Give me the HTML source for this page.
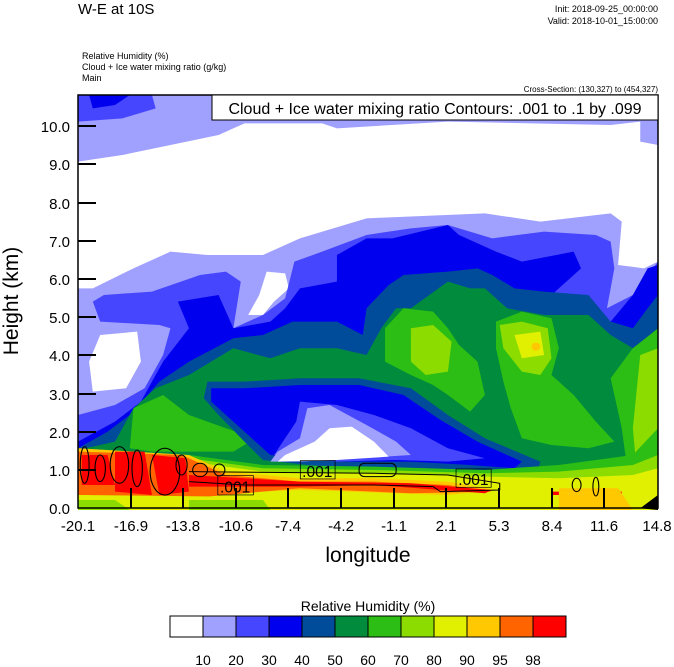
<!DOCTYPE html>
<html><head><meta charset="utf-8"><style>
body{margin:0;background:#fff;}
svg{display:block;font-family:"Liberation Sans",sans-serif;}
</style></head><body>
<svg width="674" height="667" viewBox="0 0 674 667" xmlns="http://www.w3.org/2000/svg">
<text x="78" y="14" font-size="15">W-E at 10S</text>
<text x="658" y="12" font-size="9" text-anchor="end">Init: 2018-09-25_00:00:00</text>
<text x="658" y="24" font-size="9" text-anchor="end">Valid: 2018-10-01_15:00:00</text>
<text x="82" y="59" font-size="9">Relative Humidity   (%)</text>
<text x="82" y="70" font-size="9">Cloud + Ice water mixing ratio   (g/kg)</text>
<text x="82" y="81" font-size="9">Main</text>
<text x="658" y="92" font-size="8" text-anchor="end">Cross-Section: (130,327) to (454,327)</text>
<defs><clipPath id="c"><rect x="0" y="0" width="1568" height="1245"/></clipPath></defs>
<g transform="translate(78,95) scale(0.3699,0.3333)" clip-path="url(#c)">
<rect width="1568" height="1245" fill="#a0a0ff"/>
<path d="M0,0 L200,0 L210,40 L120,70 L0,80Z" fill="#4646ff"/>
<path d="M30,0 L140,0 L100,30 L40,40Z" fill="#0000ee"/>
<path d="M0,200 L120,180 L250,150 L380,120 L450,85 L660,85 L700,100 L1000,80 L1440,90 L1520,80 L1520,140 L1568,150 L1568,500 L1530,520 L1460,510 L1470,380 L1440,355 L1250,380 L1100,355 L780,370 L600,430 L500,480 L350,480 L250,470 L150,520 L40,580 L0,580Z" fill="#fff"/>
<path d="M60,720 L160,710 L170,800 L130,880 L40,890 L30,800Z" fill="#fff"/>
<path d="M510,530 L560,535 L570,580 L530,620 L500,660 L460,660 L490,600Z" fill="#fff"/>
<path d="M0,960 L100,930 L180,880 L230,780 L250,700 L220,690 L60,680 L40,620 L70,600 L200,590 L330,540 L400,530 L440,560 L420,700 L500,660 L560,610 L585,500 L660,470 L780,420 L900,400 L1000,390 L1120,430 L1260,410 L1400,420 L1440,440 L1450,520 L1430,640 L1500,600 L1568,500 L1568,1245 L0,1245Z" fill="#4646ff"/>
<path d="M0,1040 L100,980 L170,920 L230,800 L300,700 L270,620 L380,600 L420,700 L520,680 L560,640 L600,580 L700,560 L700,480 L780,430 L850,430 L1000,390 L1030,420 L1130,470 L1200,500 L1340,470 L1360,520 L1280,600 L1300,640 L1440,680 L1500,600 L1540,520 L1568,510 L1568,1245 L0,1245Z" fill="#0000ee"/>
<path d="M0,1060 L80,1010 L140,960 L220,860 L300,800 L420,730 L500,720 L580,680 L700,680 L770,720 L780,640 L840,570 L880,540 L1000,530 L1080,520 L1120,540 L1180,580 L1260,590 L1380,600 L1440,680 L1500,700 L1540,640 L1568,600 L1568,1245 L0,1245Z" fill="#004c9a"/>
<path d="M0,1065 L100,1040 L150,940 L210,880 L300,840 L420,760 L520,790 L600,760 L700,760 L780,780 L820,700 L860,640 L900,640 L1000,560 L1060,580 L1100,580 L1160,640 L1260,660 L1380,660 L1440,720 L1500,760 L1568,700 L1568,1245 L0,1245Z" fill="#008c3c"/>
<path d="M150,940 L230,900 L300,960 L400,1000 L480,1030 L420,1070 L300,1070 L200,1070 L140,1060Z" fill="#2cbe14"/>
<path d="M830,700 L880,640 L960,650 L1000,700 L1030,750 L1080,800 L1100,900 L1060,950 L1000,900 L960,870 L900,840 L830,800Z" fill="#2cbe14"/>
<path d="M1130,680 L1200,650 L1280,670 L1300,760 L1280,840 L1340,900 L1400,980 L1450,1040 L1380,1060 L1280,1050 L1200,1030 L1170,940 L1150,860 L1130,760Z" fill="#2cbe14"/>
<path d="M1500,760 L1568,700 L1568,1245 L1500,1245 L1470,1000 L1440,850Z" fill="#2cbe14"/>
<path d="M900,700 L960,690 L1010,740 L1000,830 L940,840 L900,800Z" fill="#8cdc00"/>
<path d="M1140,690 L1200,680 L1270,700 L1280,790 L1250,840 L1200,830 L1150,760Z" fill="#8cdc00"/>
<path d="M1520,780 L1568,760 L1568,1245 L1520,1245 L1500,1000Z" fill="#8cdc00"/>
<path d="M1180,720 L1250,710 L1260,780 L1200,790Z" fill="#e0f000"/>
<circle cx="1238" cy="755" r="12" fill="#ffc800"/>
<path d="M350,860 L450,860 L600,850 L760,850 L900,880 L1000,960 L1100,1030 L1250,1100 L1240,1140 L1100,1130 L900,1120 L700,1120 L500,1095 L450,1040 L380,960 L340,910Z" fill="#004c9a"/>
<path d="M360,880 L450,880 L600,870 L760,870 L880,900 L980,975 L1080,1040 L1200,1100 L1180,1120 L1060,1110 L900,1100 L700,1100 L520,1080 L470,1030 L400,960 L360,920Z" fill="#0000ee"/>
<path d="M600,920 L700,930 L800,960 L900,1000 L1000,1060 L1100,1090 L1000,1100 L860,1095 L700,1100 L530,1080 L560,1030 L590,980Z" fill="#4646ff"/>
<path d="M620,940 L680,930 L780,990 L860,1040 L900,1080 L760,1090 L600,1100 L520,1100 L540,1070 L600,1030Z" fill="#a0a0ff"/>
<path d="M680,1000 L740,995 L800,1040 L840,1085 L700,1095 L540,1100 L560,1080 L640,1040Z" fill="#fff"/>
<path d="M0,1060 L300,1080 L500,1110 L800,1115 L1100,1125 L1300,1110 L1500,1080 L1568,1000 L1568,1245 L0,1245Z" fill="#2cbe14"/>
<path d="M0,1080 L300,1090 L500,1120 L800,1125 L1100,1135 L1300,1130 L1500,1110 L1568,1080 L1568,1245 L0,1245Z" fill="#8cdc00"/>
<path d="M0,1085 L300,1100 L500,1130 L800,1135 L1100,1145 L1300,1150 L1500,1140 L1568,1120 L1568,1245 L0,1245Z" fill="#e0f000"/>
<path d="M0,1060 L300,1080 L400,1130 L600,1150 L800,1150 L1000,1160 L1130,1185 L1000,1200 L600,1185 L300,1200 L0,1200Z" fill="#ffc800"/>
<path d="M0,1070 L280,1080 L400,1140 L600,1160 L800,1160 L1000,1170 L1120,1190 L900,1195 L600,1180 L300,1210 L0,1200Z" fill="#ff6400"/>
<path d="M10,1080 L80,1080 L100,1170 L10,1170Z M100,1070 L180,1070 L200,1200 L100,1190Z M200,1080 L290,1090 L300,1190 L220,1200Z M300,1140 L600,1160 L900,1165 L1120,1185 L1100,1195 L800,1170 L600,1175 L300,1175Z" fill="#ff0000"/>
<path d="M1280,1190 L1470,1190 L1470,1200 L1280,1200Z" fill="#ff0000"/>
<path d="M1300,1180 L1460,1180 L1500,1245 L1300,1245Z" fill="#ffc800"/>
<path d="M0,1200 L400,1205 L900,1210 L1280,1205 L1300,1245 L0,1245Z" fill="#e0f000"/>
<path d="M0,1215 L100,1215 L140,1245 L0,1245Z M300,1215 L500,1215 L520,1245 L300,1245Z" fill="#8cdc00"/>
<path d="M1520,1240 L1568,1200 L1568,1245Z" fill="#000"/>
<g fill="none" stroke="#000" stroke-width="3">
<ellipse cx="18" cy="1110" rx="12" ry="55"/><ellipse cx="60" cy="1120" rx="14" ry="40"/>
<ellipse cx="112" cy="1110" rx="25" ry="55"/><ellipse cx="160" cy="1120" rx="14" ry="55"/>
<ellipse cx="235" cy="1130" rx="40" ry="70"/><ellipse cx="280" cy="1110" rx="15" ry="30"/>
<ellipse cx="330" cy="1125" rx="20" ry="20"/><ellipse cx="382" cy="1125" rx="15" ry="18"/>
<path d="M300,1130 L800,1135 L1000,1140 L1140,1165 L1140,1185 L980,1190 L960,1175 L800,1170 L450,1170 L300,1160"/>
<rect x="760" y="1105" width="100" height="40" rx="15"/>
<ellipse cx="1348" cy="1170" rx="12" ry="20"/><ellipse cx="1400" cy="1175" rx="8" ry="28"/>
</g>
<g stroke="#000" stroke-width="2" fill="#fff" fill-opacity="0.01">
<rect x="378" y="1142" width="96" height="58"/><rect x="601" y="1097" width="94" height="55"/><rect x="1022" y="1122" width="95" height="55"/>
</g>
<g font-size="42" transform="scale(1,1.1)">
<text x="384" y="1084">.001</text><text x="606" y="1042">.001</text><text x="1028" y="1064">.001</text>
</g>
</g>
<rect x="78" y="95" width="580" height="413" fill="none" stroke="#000" stroke-width="1.5"/>
<rect x="212" y="95" width="446" height="25" fill="#fff" stroke="#000" stroke-width="1"/>
<text x="435" y="114" font-size="16" text-anchor="middle">Cloud + Ice water mixing ratio Contours: .001 to .1 by .099</text>
<g stroke="#000" stroke-width="2">
<line x1="78" y1="126" x2="96" y2="126"/><line x1="78" y1="164" x2="96" y2="164"/><line x1="78" y1="203" x2="96" y2="203"/><line x1="78" y1="241" x2="96" y2="241"/><line x1="78" y1="279" x2="96" y2="279"/><line x1="78" y1="317" x2="96" y2="317"/><line x1="78" y1="355" x2="96" y2="355"/><line x1="78" y1="394" x2="96" y2="394"/><line x1="78" y1="432" x2="96" y2="432"/><line x1="78" y1="470" x2="96" y2="470"/>
<line x1="131" y1="508" x2="131" y2="488"/><line x1="183" y1="508" x2="183" y2="488"/><line x1="236" y1="508" x2="236" y2="488"/><line x1="288" y1="508" x2="288" y2="488"/><line x1="341" y1="508" x2="341" y2="488"/><line x1="394" y1="508" x2="394" y2="488"/><line x1="446" y1="508" x2="446" y2="488"/><line x1="499" y1="508" x2="499" y2="488"/><line x1="552" y1="508" x2="552" y2="488"/><line x1="604" y1="508" x2="604" y2="488"/>
</g>
<g font-size="15" text-anchor="end">
<text x="70" y="132">10.0</text><text x="70" y="170">9.0</text><text x="70" y="209">8.0</text><text x="70" y="247">7.0</text><text x="70" y="285">6.0</text><text x="70" y="323">5.0</text><text x="70" y="361">4.0</text><text x="70" y="400">3.0</text><text x="70" y="438">2.0</text><text x="70" y="476">1.0</text><text x="70" y="514">0.0</text>
</g>
<g font-size="15" text-anchor="middle">
<text x="78" y="531">-20.1</text><text x="131" y="531">-16.9</text><text x="183" y="531">-13.8</text><text x="236" y="531">-10.6</text><text x="288" y="531">-7.4</text><text x="341" y="531">-4.2</text><text x="394" y="531">-1.1</text><text x="446" y="531">2.1</text><text x="499" y="531">5.3</text><text x="552" y="531">8.4</text><text x="604" y="531">11.6</text><text x="657" y="531">14.8</text>
</g>
<text x="368" y="562" font-size="21" text-anchor="middle">longitude</text>
<text transform="translate(18,301) rotate(-90)" font-size="21" text-anchor="middle">Height (km)</text>
<text x="368" y="611" font-size="14" text-anchor="middle">Relative Humidity  (%)</text>
<g stroke="#000" stroke-width="1">
<rect x="170" y="616" width="33" height="21" fill="#fff"/><rect x="203" y="616" width="33" height="21" fill="#a0a0ff"/><rect x="236" y="616" width="33" height="21" fill="#4646ff"/><rect x="269" y="616" width="33" height="21" fill="#0000ee"/><rect x="302" y="616" width="33" height="21" fill="#004c9a"/><rect x="335" y="616" width="33" height="21" fill="#008c3c"/><rect x="368" y="616" width="33" height="21" fill="#2cbe14"/><rect x="401" y="616" width="33" height="21" fill="#8cdc00"/><rect x="434" y="616" width="33" height="21" fill="#e0f000"/><rect x="467" y="616" width="33" height="21" fill="#ffc800"/><rect x="500" y="616" width="33" height="21" fill="#ff6400"/><rect x="533" y="616" width="33" height="21" fill="#ff0000"/>
</g>
<g font-size="14" text-anchor="middle">
<text x="203" y="665">10</text><text x="236" y="665">20</text><text x="269" y="665">30</text><text x="302" y="665">40</text><text x="335" y="665">50</text><text x="368" y="665">60</text><text x="401" y="665">70</text><text x="434" y="665">80</text><text x="467" y="665">90</text><text x="500" y="665">95</text><text x="533" y="665">98</text>
</g>
</svg>
</body></html>
